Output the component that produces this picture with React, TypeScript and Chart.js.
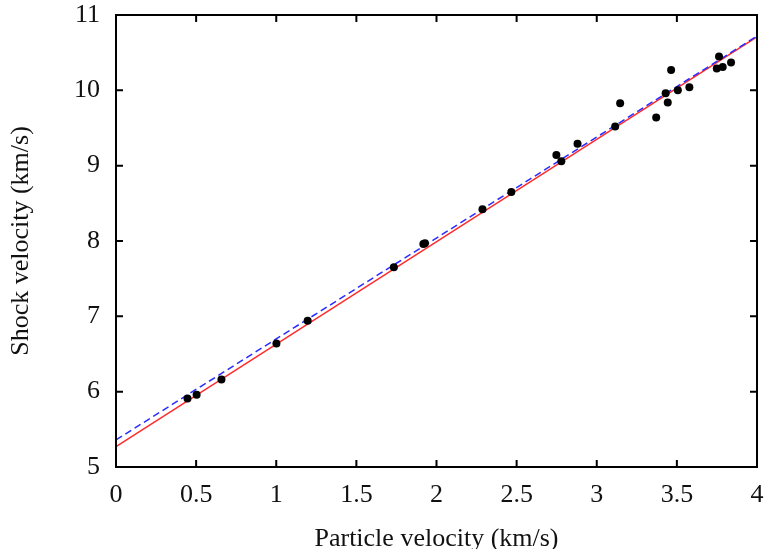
import { useEffect, useRef } from 'react';
import { Chart, registerables } from 'chart.js';

Chart.register(...registerables);

// Measured data (particle velocity, shock velocity), km/s
const particleVelocity = [
  0.446, 0.503, 0.658, 1.001, 1.196, 1.734, 1.918, 1.928, 2.287, 2.467,
  2.748, 2.779, 2.88, 3.115, 3.146, 3.371, 3.43, 3.443, 3.464, 3.506,
  3.578, 3.749, 3.763, 3.786, 3.838,
];
const shockVelocity = [
  5.91, 5.96, 6.16, 6.64, 6.94, 7.65, 7.96, 7.97, 8.42, 8.65,
  9.14, 9.06, 9.29, 9.52, 9.83, 9.64, 9.96, 9.84, 10.27, 10.0,
  10.04, 10.29, 10.45, 10.31, 10.37,
];

// Fit lines (end points)
const redFitX = [0, 4];
const redFitY = [5.27, 10.71];
const blueFitX = [0, 4];
const blueFitY = [5.36, 10.72];

const xTickLabels = ['0', '0.5', '1', '1.5', '2', '2.5', '3', '3.5', '4'];
const yTickLabels = ['5', '6', '7', '8', '9', '10', '11'];

const xTitle = 'Particle velocity (km/s)';
const yTitle = 'Shock velocity (km/s)';

const FONT = "'Liberation Serif', 'DejaVu Serif', serif";

const framePlugin = {
  id: 'frameTicks',
  afterDatasetsDraw(chart: any) {
    const { ctx, chartArea, scales } = chart;
    const { left, top, right, bottom } = chartArea;
    const xs = scales.x;
    const ys = scales.y;
    const tl = 7;
    ctx.save();
    ctx.strokeStyle = '#000';
    ctx.lineWidth = 2;
    ctx.beginPath();
    xs.ticks.forEach((t: any) => {
      const px = xs.getPixelForValue(t.value);
      ctx.moveTo(px, bottom);
      ctx.lineTo(px, bottom - tl);
      ctx.moveTo(px, top);
      ctx.lineTo(px, top + tl);
    });
    ys.ticks.forEach((t: any) => {
      const py = ys.getPixelForValue(t.value);
      ctx.moveTo(left, py);
      ctx.lineTo(left + tl, py);
      ctx.moveTo(right, py);
      ctx.lineTo(right - tl, py);
    });
    ctx.stroke();
    ctx.strokeRect(left, top, right - left, bottom - top);
    ctx.restore();
  },
};

const zeroPadding = (scale: any) => {
  scale.paddingLeft = 0;
  scale.paddingRight = 0;
  scale.paddingTop = 0;
  scale.paddingBottom = 0;
};

export default function App() {
  const canvasRef = useRef<HTMLCanvasElement | null>(null);

  useEffect(() => {
    if (!canvasRef.current) return;
    const points = particleVelocity.map((x, i) => ({ x, y: shockVelocity[i] }));
    const red = redFitX.map((x, i) => ({ x, y: redFitY[i] }));
    const blue = blueFitX.map((x, i) => ({ x, y: blueFitY[i] }));

    const chart = new Chart(canvasRef.current, {
      type: 'scatter',
      data: {
        datasets: [
          {
            label: 'data',
            data: points,
            backgroundColor: '#000',
            borderColor: '#000',
            pointRadius: 4,
            pointBorderWidth: 0,
            showLine: false,
          },
          {
            label: 'blue fit',
            data: blue,
            showLine: true,
            borderColor: '#2b2bff',
            borderWidth: 1.5,
            borderDash: [7, 4],
            pointRadius: 0,
            fill: false,
          },
          {
            label: 'red fit',
            data: red,
            showLine: true,
            borderColor: '#ff2a2a',
            borderWidth: 1.5,
            pointRadius: 0,
            fill: false,
          },
        ],
      },
      options: {
        responsive: false,
        animation: false,
        devicePixelRatio: 1,
        layout: { padding: { left: 0, top: 15, right: 8, bottom: 0 } },
        plugins: {
          legend: { display: false },
          tooltip: { enabled: false },
        },
        scales: {
          x: {
            type: 'linear',
            min: 0,
            max: 4,
            grid: { display: false, drawTicks: false },
            border: { display: false },
            ticks: {
              stepSize: 0.5,
              padding: 13,
              color: '#111',
              font: { family: FONT, size: 26 },
              maxRotation: 0,
              autoSkip: false,
              callback: (_v: any, i: number) => xTickLabels[i],
            },
            title: {
              display: true,
              text: xTitle,
              color: '#111',
              font: { family: FONT, size: 26 },
              padding: { top: 0, bottom: 10 },
            },
            afterFit: (scale: any) => {
              scale.height = 98;
              zeroPadding(scale);
            },
          },
          y: {
            type: 'linear',
            min: 5,
            max: 11,
            grid: { display: false, drawTicks: false },
            border: { display: false },
            ticks: {
              stepSize: 1,
              padding: 16,
              color: '#111',
              font: { family: FONT, size: 26 },
              autoSkip: false,
              callback: (_v: any, i: number) => yTickLabels[i],
            },
            title: {
              display: true,
              text: yTitle,
              color: '#111',
              font: { family: FONT, size: 26 },
              padding: { top: 6, bottom: 0 },
            },
            afterFit: (scale: any) => {
              scale.width = 116;
              zeroPadding(scale);
            },
          },
        },
      },
      plugins: [framePlugin],
    });
    return () => chart.destroy();
  }, []);

  return (
    <div
      style={{
        position: 'fixed',
        left: 0,
        top: 0,
        width: 765,
        height: 549,
        overflow: 'hidden',
        background: '#fff',
      }}
    >
      <canvas ref={canvasRef} width={765} height={565} style={{ display: 'block' }} />
    </div>
  );
}
